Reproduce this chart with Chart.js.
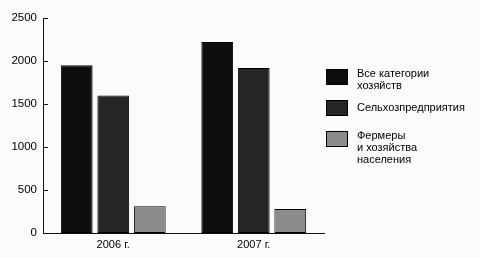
<!DOCTYPE html>
<html>
<head>
<meta charset="utf-8">
<script src="https://cdn.jsdelivr.net/npm/chart.js@4/dist/chart.umd.min.js"></script>
<style>
  html, body { margin: 0; padding: 0; background: #fbfbfa; }
  #wrap { width: 480px; height: 258px; position: relative; }
</style>
</head>
<body>
<div id="wrap"><canvas id="c" width="480" height="258"></canvas></div>
<script>
const years = ['2006 г.', '2007 г.'];
const allFarms = [1950, 2220];
const agriEnterprises = [1600, 1920];
const farmersHouseholds = [310, 280];
const seriesLabels = [
  ['Все категории', 'хозяйств'],
  ['Сельхозпредприятия'],
  ['Фермеры', 'и хозяйства', 'населения']
];
const yTicks = [0, 500, 1000, 1500, 2000, 2500];

const fills = ['#0d0d0d', '#262626', '#8c8c8c'];
const fontFamily = '"Liberation Sans", Arial, sans-serif';

// short tick marks pointing into the plot, like the printed chart
const innerTicks = {
  id: 'innerTicks',
  afterDraw(chart) {
    const ctx = chart.ctx;
    const y = chart.scales.y;
    ctx.save();
    ctx.strokeStyle = '#111';
    ctx.lineWidth = 1;
    yTicks.forEach(v => {
      const py = Math.round(y.getPixelForValue(v)) + 0.5;
      ctx.beginPath();
      ctx.moveTo(y.right, py);
      ctx.lineTo(y.right + 5, py);
      ctx.stroke();
    });
    ctx.restore();
  }
};

// legend drawn on the right side, boxes with wrapped labels
const sideLegend = {
  id: 'sideLegend',
  afterDraw(chart) {
    const ctx = chart.ctx;
    const tops = [69, 100, 131];
    ctx.save();
    ctx.font = '11px ' + fontFamily;
    ctx.textBaseline = 'top';
    chart.data.datasets.forEach((ds, i) => {
      const y = tops[i];
      ctx.fillStyle = ds.backgroundColor;
      ctx.fillRect(326, y, 22, 16);
      ctx.strokeStyle = '#000';
      ctx.lineWidth = 1;
      ctx.strokeRect(326.5, y + 0.5, 21, 15);
      ctx.fillStyle = '#000';
      const lines = seriesLabels[i];
      const start = lines.length === 1 ? y + 2 : y - 1;
      lines.forEach((t, j) => ctx.fillText(t, 357, start + j * 12));
    });
    ctx.restore();
  }
};

new Chart(document.getElementById('c'), {
  type: 'bar',
  data: {
    labels: years,
    datasets: [
      { label: seriesLabels[0].join(' '), data: allFarms, backgroundColor: fills[0] },
      { label: seriesLabels[1].join(' '), data: agriEnterprises, backgroundColor: fills[1] },
      { label: seriesLabels[2].join(' '), data: farmersHouseholds, backgroundColor: fills[2] }
    ].map(ds => Object.assign(ds, {
      borderColor: '#000', borderWidth: 1, borderSkipped: false,
      categoryPercentage: 0.78, barPercentage: 0.87
    }))
  },
  options: {
    responsive: false,
    animation: false,
    layout: { padding: { top: 18, right: 156, left: 0, bottom: 0 } },
    plugins: { legend: { display: false }, tooltip: { enabled: false } },
    scales: {
      x: {
        grid: { display: false, drawTicks: false },
        border: { display: true, color: '#111', width: 1 },
        ticks: { color: '#000', font: { family: fontFamily, size: 11 }, padding: 5 },
        afterFit(scale) { scale.height = 25; }
      },
      y: {
        min: 0,
        max: 2500,
        afterBuildTicks(scale) { scale.ticks = yTicks.map(v => ({ value: v })); },
        grid: { display: false, drawTicks: false },
        border: { display: true, color: '#111', width: 1 },
        ticks: {
          color: '#000', font: { family: fontFamily, size: 11.5 }, padding: 6,
          callback: v => String(v)
        },
        afterFit(scale) { scale.width = 43; }
      }
    }
  },
  plugins: [innerTicks, sideLegend]
});
</script>
</body>
</html>
